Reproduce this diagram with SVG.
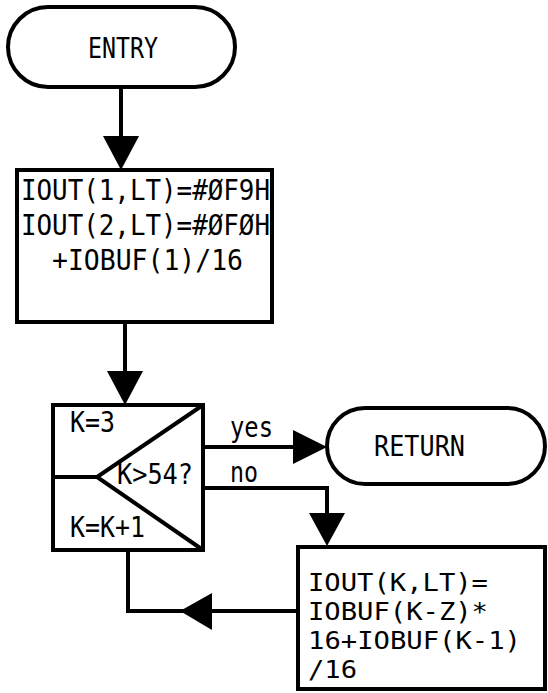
<svg xmlns="http://www.w3.org/2000/svg" width="548" height="693" viewBox="0 0 548 693">
<style>
.s{fill:none;stroke:#000;stroke-width:4;stroke-linejoin:miter}
.a{fill:#000;stroke:none}
text{font-family:"DejaVu Sans Mono","Liberation Mono",monospace;fill:#000}
.t{font-size:28px}
.b{font-size:29px}
.c{font-size:24.5px}
</style>
<rect width="548" height="693" fill="#fff"/>
<g id="entry">
<rect class="s" x="8" y="7" width="227" height="80" rx="40" ry="40"/>
<text class="t" x="88" y="58" textLength="70" lengthAdjust="spacingAndGlyphs">ENTRY</text>
</g>
<g id="init">
<rect class="s" x="17" y="170" width="255" height="152"/>
<text class="b" x="21" y="200" textLength="249" lengthAdjust="spacingAndGlyphs">IOUT(1,LT)=#ØF9H</text>
<text class="b" x="21" y="235" textLength="249" lengthAdjust="spacingAndGlyphs">IOUT(2,LT)=#ØFØH</text>
<text class="b" x="52" y="270" textLength="191" lengthAdjust="spacingAndGlyphs">+IOBUF(1)/16</text>
</g>
<g id="loop">
<rect class="s" x="53" y="405" width="150" height="145"/>
<path class="s" d="M203,405 L97,477 L203,550 M53,477 L97,477"/>
<text class="t" x="70" y="432" textLength="45" lengthAdjust="spacingAndGlyphs">K=3</text>
<text class="t" x="117" y="484" textLength="76" lengthAdjust="spacingAndGlyphs">K&gt;54?</text>
<text class="t" x="70" y="537" textLength="75" lengthAdjust="spacingAndGlyphs">K=K+1</text>
</g>
<g id="return">
<rect class="s" x="327" y="408" width="218" height="76" rx="38" ry="38"/>
<text class="t" x="374" y="456" textLength="91" lengthAdjust="spacingAndGlyphs">RETURN</text>
</g>
<g id="compute">
<rect class="s" x="298" y="547" width="247" height="142"/>
<text class="c" x="308" y="591" textLength="180" lengthAdjust="spacingAndGlyphs">IOUT(K,LT)=</text>
<text class="c" x="308" y="620" textLength="180" lengthAdjust="spacingAndGlyphs">IOBUF(K-Z)*</text>
<text class="c" x="308" y="649" textLength="213" lengthAdjust="spacingAndGlyphs">16+IOBUF(K-1)</text>
<text class="c" x="308" y="678" textLength="49" lengthAdjust="spacingAndGlyphs">/16</text>
</g>
<g id="connectors">
<path class="s" d="M121,87 L121,140"/>
<polygon class="a" points="103,136 139,136 121,170"/>
<path class="s" d="M125,322 L125,375"/>
<polygon class="a" points="107,371 143,371 125,405"/>
<path class="s" d="M203,447 L296,447"/>
<polygon class="a" points="293,430 293,464 327,447"/>
<text class="t" x="230" y="437" textLength="43" lengthAdjust="spacingAndGlyphs">yes</text>
<path class="s" d="M203,488 L327,488 L327,516"/>
<polygon class="a" points="309,513 345,513 327,546"/>
<text class="t" x="230" y="482" textLength="28" lengthAdjust="spacingAndGlyphs">no</text>
<path class="s" d="M298,611 L128,611 L128,550"/>
<polygon class="a" points="212,593 212,630 180,611"/>
</g>
</svg>
